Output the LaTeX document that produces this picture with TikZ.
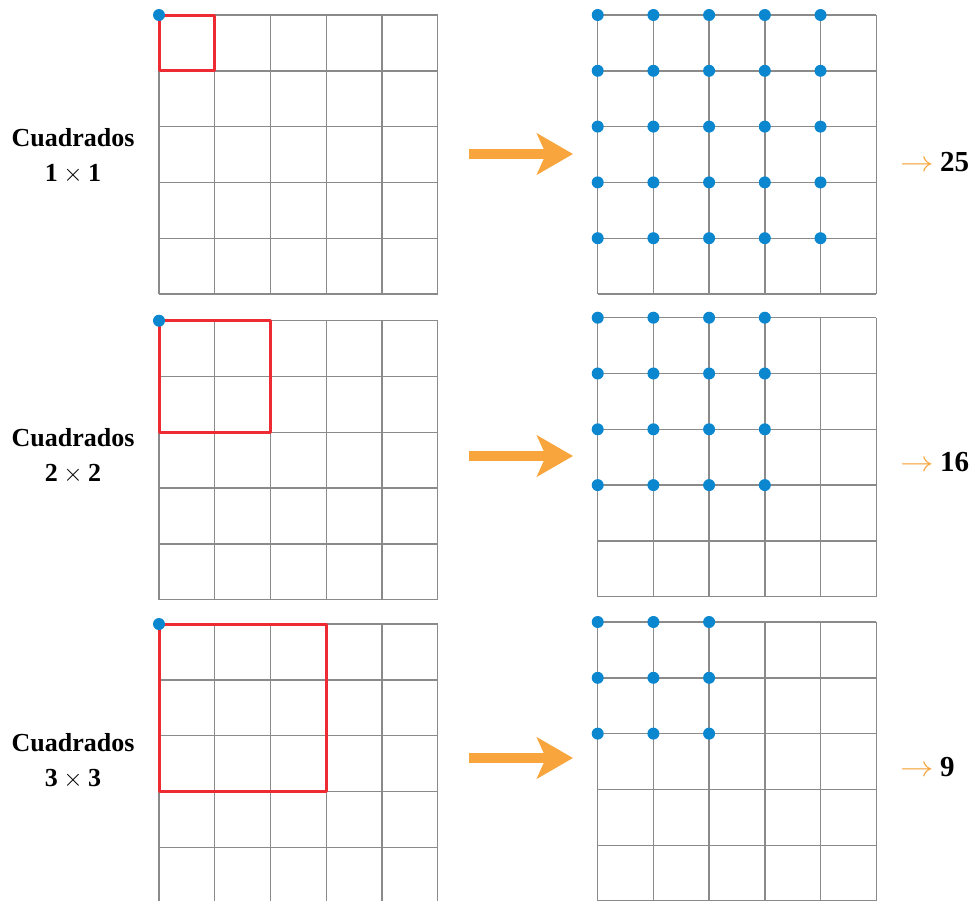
\documentclass[tikz,border=0pt]{standalone}
\usepackage{fontspec}
\setmainfont{Liberation Serif}
\usetikzlibrary{arrows.meta}
\definecolor{gridgray}{HTML}{8A8A8A}
\definecolor{sqred}{HTML}{EE2A33}
\definecolor{dotblue}{HTML}{0A87CF}
\definecolor{arrorange}{HTML}{F7A53C}
\tikzset{
  gridline/.style={gridgray, line width=1.4pt},
  redsq/.style={sqred, line width=3pt},
  dot/.style={circle, fill=dotblue, inner sep=0pt, minimum size=12pt},
  bigarrow/.style={arrorange, line width=10pt, -{Stealth[length=36pt, width=41pt, inset=9pt]}},
  label/.style={font=\bfseries\fontsize{26}{35}\selectfont, align=center},
  count/.style={font=\bfseries\fontsize{29}{34}\selectfont, anchor=base west}
}
\begin{document}
\begin{tikzpicture}[x=1pt, y=-1pt, line join=round]
\useasboundingbox (0,0) rectangle (972,900);
% three rows: size of square, top of left grid, top of right grid, arrow height, text baseline
\foreach \n/\tl/\tr/\ya/\yb/\tot in {1/15/15/154/146/25, 2/320.7/317.7/456/446/16, 3/624/622/758/751/9}{
  % left grid (the bottom one is cut by the page edge)
  \foreach \i in {0,...,5}{
    \draw[gridline] ({159+55.75*\i},\tl) -- ({159+55.75*\i},{min(\tl+279,904)});
    \draw[gridline] (159,{\tl+55.8*\i}) -- (437.75,{\tl+55.8*\i});
  }
  % right grid
  \foreach \i in {0,...,5}{
    \draw[gridline] ({597.7+55.7*\i},\tr) -- ({597.7+55.7*\i},{min(\tr+279,904)});
    \draw[gridline] (597.7,{\tr+55.8*\i}) -- (876.2,{\tr+55.8*\i});
  }
  % red square and its corner
  \draw[redsq] (159,\tl) rectangle ({159+55.75*\n},{\tl+55.8*\n});
  \node[dot] (c\n) at (159,\tl) {};
  % positions of the top left corner
  \pgfmathtruncatemacro{\last}{5-\n}
  \foreach \i in {0,...,\last}{
    \foreach \j in {0,...,\last}{
      \node[dot] (p\n-\i-\j) at ({597.7+55.7*\i},{\tr+55.8*\j}) {};
    }
  }
  % labels and arrow
  \node[label, anchor=base] (l\n) at (73,{\yb+35.5}) {Cuadrados\\$\mathbf{\n}\times\mathbf{\n}$};
  \coordinate (a\n) at (469,\ya);
  \coordinate (b\n) at (573,\ya);
  \draw[bigarrow] (a\n) -- (b\n);
  \node[count] (t\n) at (897,{\yb+25.5}) {\textcolor{arrorange}{\scalebox{1.35}[1.15]{\mdseries$\rightarrow$}}\hspace{6pt}\tot};
}
\end{tikzpicture}
\end{document}
